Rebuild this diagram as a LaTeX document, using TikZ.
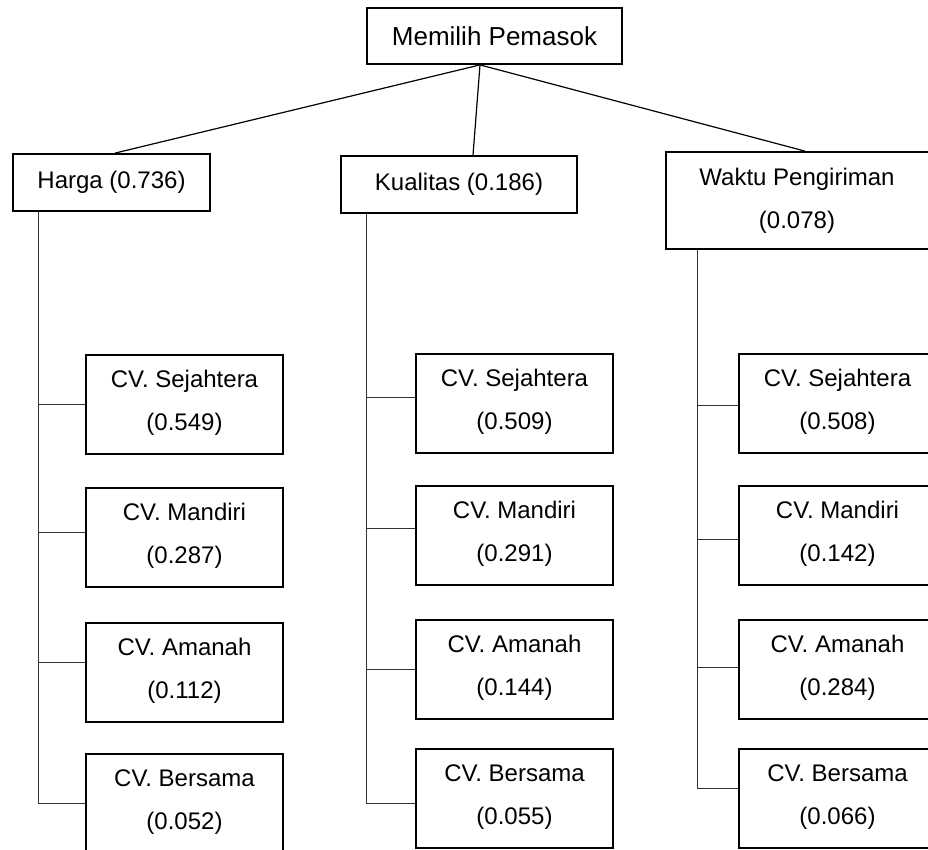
\documentclass[tikz,border=0pt]{standalone}
\usepackage{fontspec}
\setmainfont{Liberation Sans}
\begin{document}
\begin{tikzpicture}[x=1pt,y=-1pt,
  box/.style={draw, line width=1.8pt, inner sep=0pt, font=\fontsize{24}{43}\selectfont},
  cvbox/.style={draw, line width=1.8pt, minimum width=197pt, minimum height=99pt, inner sep=0pt},
  cvtext/.style={align=center, inner sep=0pt, font=\fontsize{24}{43}\selectfont},
  link/.style={line width=1.2pt},
  branch/.style={line width=1pt, black!80}]
\useasboundingbox (0,0) rectangle (928,849);
\clip (0,0) rectangle (928,849);

% goal and criteria
\node[box, minimum width=255pt, minimum height=56pt, font=\fontsize{26}{30}\selectfont] (goal) at (494.5,36) {Memilih Pemasok};
\node[box, minimum width=197pt, minimum height=57pt] (harga) at (111.5,182.5) {Harga (0.736)};
\node[box, minimum width=236pt, minimum height=57pt] (kual) at (459,184.5) {Kualitas (0.186)};
\node[box, minimum width=265pt, minimum height=97pt] (waktu) at (798.5,200.5) {};
\node[cvtext] (waktu-t) at ([xshift=-1.5pt, yshift=-49.5pt]waktu.north) {Waktu Pengiriman\\(0.078)};

\draw[link] ([xshift=-14.5pt]goal.south) -- ([xshift=3.5pt]harga.north);
\draw[link] ([xshift=-14.5pt]goal.south) -- ([xshift=14pt]kual.north);
\draw[link] ([xshift=-14.5pt]goal.south) -- ([xshift=6.5pt]waktu.north);

% alternatives under Harga
\node[cvbox] (c1a) at (184.5,404.5) {};
\node[cvbox] (c1b) at (184.5,537.5) {};
\node[cvbox] (c1c) at (184.5,672.5) {};
\node[cvbox] (c1d) at (184.5,803.5) {};
\node[cvtext] (c1a-t) at ([yshift=-48.5pt]c1a.north) {CV. Sejahtera\\(0.549)};
\node[cvtext] (c1b-t) at ([yshift=-48.5pt]c1b.north) {CV. Mandiri\\(0.287)};
\node[cvtext] (c1c-t) at ([yshift=-48.5pt]c1c.north) {CV. Amanah\\(0.112)};
\node[cvtext] (c1d-t) at ([yshift=-48.5pt]c1d.north) {CV. Bersama\\(0.052)};

% alternatives under Kualitas
\node[cvbox] (c2a) at (514.5,403.5) {};
\node[cvbox] (c2b) at (514.5,535.5) {};
\node[cvbox] (c2c) at (514.5,669.5) {};
\node[cvbox] (c2d) at (514.5,798.5) {};
\node[cvtext] (c2a-t) at ([yshift=-48.5pt]c2a.north) {CV. Sejahtera\\(0.509)};
\node[cvtext] (c2b-t) at ([yshift=-48.5pt]c2b.north) {CV. Mandiri\\(0.291)};
\node[cvtext] (c2c-t) at ([yshift=-48.5pt]c2c.north) {CV. Amanah\\(0.144)};
\node[cvtext] (c2d-t) at ([yshift=-48.5pt]c2d.north) {CV. Bersama\\(0.055)};

% alternatives under Waktu Pengiriman
\node[cvbox] (c3a) at (837.5,403.5) {};
\node[cvbox] (c3b) at (837.5,535.5) {};
\node[cvbox] (c3c) at (837.5,669.5) {};
\node[cvbox] (c3d) at (837.5,798.5) {};
\node[cvtext] (c3a-t) at ([yshift=-48.5pt]c3a.north) {CV. Sejahtera\\(0.508)};
\node[cvtext] (c3b-t) at ([yshift=-48.5pt]c3b.north) {CV. Mandiri\\(0.142)};
\node[cvtext] (c3c-t) at ([yshift=-48.5pt]c3c.north) {CV. Amanah\\(0.284)};
\node[cvtext] (c3d-t) at ([yshift=-48.5pt]c3d.north) {CV. Bersama\\(0.066)};

% entry points of the branches
\coordinate (c1a-in) at ([yshift=0.5pt]c1a.west);
\coordinate (c1b-in) at ([yshift=5.5pt]c1b.west);
\coordinate (c1c-in) at ([yshift=10.5pt]c1c.west);
\coordinate (c1d-in) at ([yshift=0.5pt]c1d.west);
\coordinate (c2a-in) at ([yshift=6.5pt]c2a.west);
\coordinate (c2b-in) at ([yshift=7.5pt]c2b.west);
\coordinate (c2c-in) at ([yshift=0.5pt]c2c.west);
\coordinate (c2d-in) at ([yshift=-4.5pt]c2d.west);
\coordinate (c3a-in) at ([yshift=-1.5pt]c3a.west);
\coordinate (c3b-in) at ([yshift=-3.5pt]c3b.west);
\coordinate (c3c-in) at ([yshift=2.5pt]c3c.west);
\coordinate (c3d-in) at ([yshift=10.5pt]c3d.west);

% spines
\coordinate (s1) at ([xshift=26pt]harga.south west);
\coordinate (s2) at ([xshift=26pt]kual.south west);
\coordinate (s3) at ([xshift=32pt]waktu.south west);
\draw[branch] (s1) -- (s1 |- c1d-in);
\draw[branch] (s2) -- (s2 |- c2d-in);
\draw[branch] (s3) -- (s3 |- c3d-in);

\foreach \c in {1,2,3}{
  \foreach \r in {a,b,c,d}{
    \draw[branch] (s\c |- c\c\r-in) -- (c\c\r-in);
  }
}
\end{tikzpicture}
\end{document}
